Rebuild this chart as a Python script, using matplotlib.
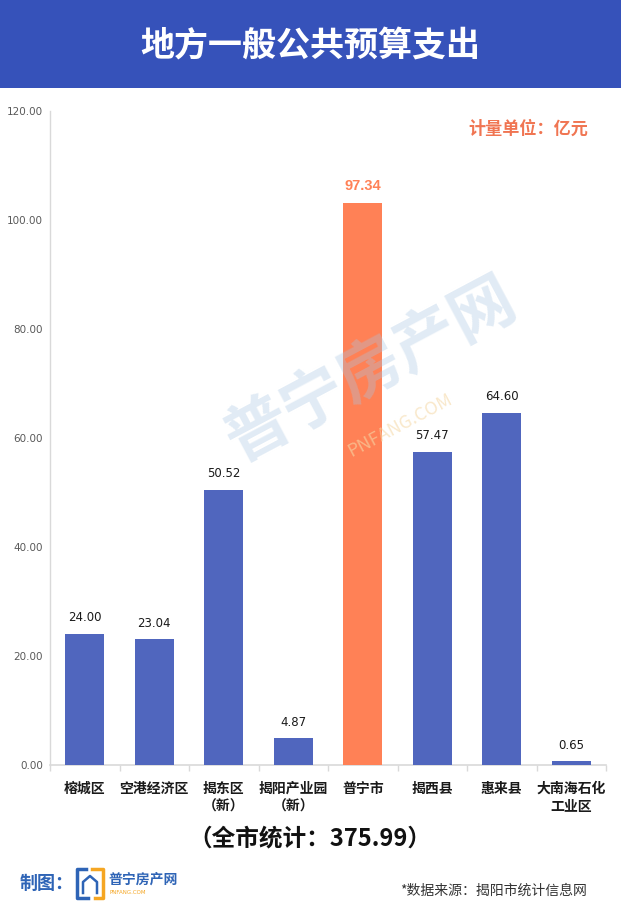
import matplotlib
matplotlib.use("Agg")
import matplotlib.pyplot as plt
from matplotlib.patches import Rectangle
from matplotlib.lines import Line2D

plt.rcParams['font.family'] = ['Noto Sans CJK SC', 'DejaVu Sans']

categories = ["榕城区", "空港经济区", "揭东区\n（新）", "揭阳产业园\n（新）", "普宁市", "揭西县", "惠来县", "大南海石化\n工业区"]
bar_heights = [24.00, 23.04, 50.52, 4.87, 103.1, 57.47, 64.60, 0.65]
value_labels = ["24.00", "23.04", "50.52", "4.87", "97.34", "57.47", "64.60", "0.65"]
highlight = "普宁市"
yticks = [0, 20, 40, 60, 80, 100, 120]
ytick_labels = ["0.00", "20.00", "40.00", "60.00", "80.00", "100.00", "120.00"]

title = "地方一般公共预算支出"
unit_text = "计量单位：亿元"
total_text = "（全市统计：375.99）"
source_text = "*数据来源：揭阳市统计信息网"

BLUE = "#5066BE"
ORANGE = "#FF8156"
BANNER = "#3652BA"
LOGO_BLUE = "#2E64B6"
LOGO_ORANGE = "#F5A623"

W, H = 621, 923
fig = plt.figure(figsize=(W / 100, H / 100), dpi=100)
fig.patch.set_facecolor("white")


def fx(px):
    return px / W


def fy(py):
    return 1 - py / H


# Banner
fig.add_artist(Rectangle((0, fy(88)), 1, 88 / H, transform=fig.transFigure,
                         facecolor=BANNER, edgecolor="none", zorder=0))
fig.text(0.5, fy(46), title, color="white", fontsize=24.5, fontweight="bold",
         ha="center", va="center")

ax = fig.add_axes([fx(50), fy(765), (606 - 50) / W, (765 - 111) / H])
x = list(range(len(categories)))
colors = [ORANGE if c == highlight else BLUE for c in categories]
ax.bar(x, bar_heights, width=0.56, color=colors, zorder=3)
for xi, h, lab, c in zip(x, bar_heights, value_labels, categories):
    if c == highlight:
        ax.annotate(lab, (xi, h), xytext=(0, 7), textcoords="offset points",
                    ha="center", va="bottom", fontsize=10.5, fontweight="bold",
                    color=ORANGE, family=['Liberation Sans'])
    else:
        ax.annotate(lab, (xi, h), xytext=(0, 7), textcoords="offset points",
                    ha="center", va="bottom", fontsize=8.5,
                    color="#1a1a1a", family=['DejaVu Sans'])

ax.set_xlim(-0.5, len(categories) - 0.5)
ax.set_ylim(0, 120)
ax.set_yticks(yticks)
ax.set_yticklabels(ytick_labels, fontsize=7.5, color="#595959", family=['DejaVu Sans'])
ax.tick_params(axis="y", length=0, pad=5)
ax.set_xticks(x)
ax.set_xticklabels(categories, fontsize=10, fontweight="bold", color="#1a1a1a",
                   linespacing=1.35)
ax.tick_params(axis="x", length=0, pad=12)
ax.set_xticks([i + 0.5 for i in range(-1, len(categories))], minor=True)
ax.tick_params(axis="x", which="minor", length=4, color="#D9D9D9", width=1)
for s in ["top", "right"]:
    ax.spines[s].set_visible(False)
ax.spines["left"].set_color("#D9D9D9")
ax.spines["bottom"].set_color("#D9D9D9")
ax.spines["left"].set_linewidth(1)
ax.spines["bottom"].set_linewidth(1.2)

# Watermark
fig.text(fx(370), fy(370), "普宁房产网", fontsize=46, fontweight="bold",
         color="#A9C6E2", alpha=0.35, rotation=28, ha="center", va="center", zorder=5)
fig.text(fx(400), fy(425), "PNFANG.COM", fontsize=13, color="#F5D9A8",
         alpha=0.6, rotation=28, ha="center", va="center", zorder=5)

fig.text(fx(528), fy(129), unit_text, color="#F07552", fontsize=12.3,
         fontweight="bold", ha="center", va="center")
fig.text(fx(310), fy(838), total_text, color="#111111", fontsize=17,
         fontweight="bold", ha="center", va="center")

# Credit
fig.text(fx(20), fy(883), "制图：", color=LOGO_BLUE, fontsize=13,
         fontweight="bold", ha="left", va="center")
fig.add_artist(Line2D([fx(86), fx(77), fx(77), fx(88)], [fy(869), fy(869), fy(898), fy(898)],
                      transform=fig.transFigure, color=LOGO_BLUE, linewidth=2.5))
fig.add_artist(Line2D([fx(92), fx(103), fx(103), fx(95)], [fy(869), fy(869), fy(898), fy(898)],
                      transform=fig.transFigure, color=LOGO_ORANGE, linewidth=2.5))
fig.add_artist(Line2D([fx(83), fx(83), fx(90), fx(97), fx(97)], [fy(893), fy(882), fy(876), fy(882), fy(893)],
                      transform=fig.transFigure, color=LOGO_BLUE, linewidth=1.8))
fig.text(fx(108), fy(880), "普宁房产网", color=LOGO_BLUE, fontsize=10,
         fontweight="bold", ha="left", va="center")
fig.text(fx(110), fy(893), "PNFANG.COM", color=LOGO_ORANGE, fontsize=4,
         ha="left", va="center", family=['DejaVu Sans'])
fig.text(fx(587), fy(891), source_text, color="#333333", fontsize=10,
         ha="right", va="center")

fig.savefig("out.png", dpi=100, facecolor="white")
